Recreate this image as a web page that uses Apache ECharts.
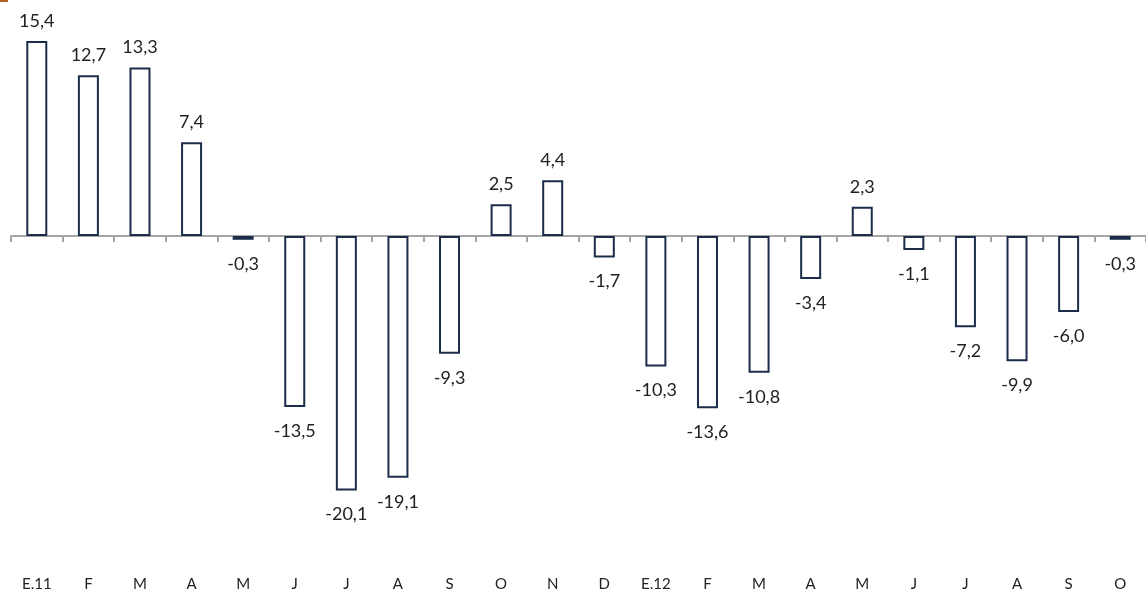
<!DOCTYPE html>
<html>
<head>
<meta charset="utf-8">
<script src="https://cdn.jsdelivr.net/npm/echarts@6/dist/echarts.min.js"></script>
<style>
  html, body { margin: 0; padding: 0; background: #fff; }
  #chart { width: 1146px; height: 593px; }
</style>
</head>
<body>
<div id="chart"></div>
<script>
// Monthly variation, Jan 2011 – Oct 2012
const months = ['E.11', 'F', 'M', 'A', 'M', 'J', 'J', 'A', 'S', 'O', 'N', 'D',
                'E.12', 'F', 'M', 'A', 'M', 'J', 'J', 'A', 'S', 'O'];
const values = [15.4, 12.7, 13.3, 7.4, -0.3, -13.5, -20.1, -19.1, -9.3, 2.5, 4.4, -1.7,
                -10.3, -13.6, -10.8, -3.4, 2.3, -1.1, -7.2, -9.9, -6.0, -0.3];

const fmt = v => v.toFixed(1).replace('.', ',');
const FONT = 'Lato, "Open Sans", sans-serif';

// Positive values get their label above the bar, negative ones below it
const barData = values.map(v => ({
  value: v,
  label: {
    position: v >= 0 ? 'top' : 'bottom',
    distance: v >= 0 ? 11 : 15
  }
}));

const chart = echarts.init(document.getElementById('chart'), null, { renderer: 'canvas' });
chart.setOption({
  animation: false,
  backgroundColor: '#ffffff',
  graphic: [{
    type: 'rect',
    shape: { x: 0, y: 0, width: 8, height: 2 },
    style: { fill: '#b0622a' }
  }],
  grid: { left: 11, right: -5, top: 33.4, bottom: 27.8, containLabel: false },
  xAxis: [{
    type: 'category',
    data: months,
    axisLine: { onZero: true, lineStyle: { color: '#a6a6a6', width: 2 } },
    axisTick: { show: true, length: 6, lineStyle: { color: '#a6a6a6', width: 2 } },
    axisLabel: { show: false }
  }, {
    type: 'category',
    data: months,
    position: 'bottom',
    axisLine: { show: false },
    axisTick: { show: false },
    axisLabel: { color: '#222', fontFamily: FONT, fontSize: 15, margin: 11 }
  }],
  yAxis: {
    type: 'value',
    min: -26,
    max: 16,
    show: false,
    splitLine: { show: false }
  },
  series: [{
    type: 'bar',
    xAxisIndex: 0,
    data: barData,
    barWidth: 21,
    itemStyle: { color: '#ffffff', borderColor: '#1b2d4b', borderWidth: 2 },
    label: {
      show: true,
      color: '#222',
      fontFamily: FONT,
      fontSize: 18,
      formatter: p => fmt(p.value)
    }
  }]
});
</script>
</body>
</html>
